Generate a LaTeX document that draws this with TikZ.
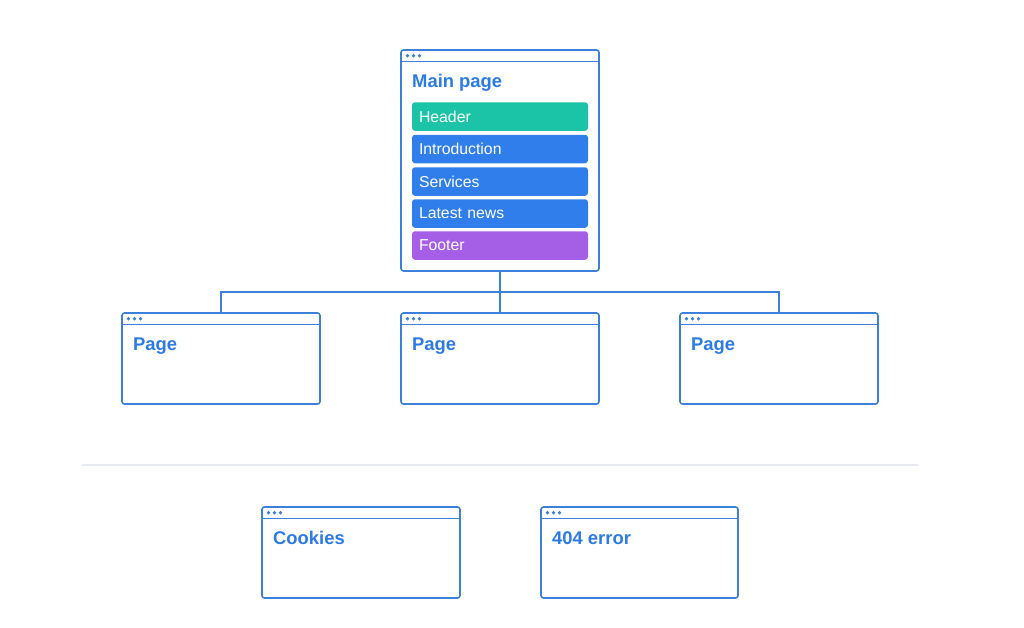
\documentclass[tikz,border=0pt]{standalone}
\usepackage{fontspec}
\setmainfont{Liberation Sans}
\definecolor{wline}{HTML}{3B80D9}
\definecolor{wtext}{HTML}{2C7BE5}
\definecolor{cteal}{HTML}{1CC4A7}
\definecolor{cblue}{HTML}{2F7EEB}
\definecolor{cpurple}{HTML}{A55EE6}
\definecolor{sep}{HTML}{E8ECF2}
\tikzset{
  win/.style={draw=wline, line width=1.6pt, rounded corners=2.5pt, inner sep=0pt, outer sep=0pt, fill=white},
  wtitle/.style={anchor=base west, inner sep=0pt, text=wtext, font=\fontsize{18.4}{21}\selectfont\bfseries},
  bar/.style={rounded corners=3pt, minimum width=176pt, minimum height=28.5pt, text width=162pt, inner xsep=7pt, inner ysep=0pt, align=left, text=white, font=\fontsize{15.8}{18}\selectfont},
  conn/.style={draw=wline, line width=1.6pt},
}
\newcommand{\browserwin}[6]{%
  \node[win, minimum width=#4pt, minimum height=#5pt] (#1) at (#2,#3) {};
  \draw[wline, line width=1.6pt] ([yshift=-11.5pt]#1.north west) -- ([yshift=-11.5pt]#1.north east);
  \foreach \dx in {6.5,12.5,18.5} {\fill[wline] ([xshift=\dx pt, yshift=-5.8pt]#1.north west) circle (1.9pt);}
  \node[wtitle] (#1t) at ([xshift=11pt, yshift=-37.5pt]#1.north west) {#6};
}
\begin{document}
\begin{tikzpicture}[x=1pt, y=-1pt]
\useasboundingbox (0,0) rectangle (1024,627);
% separator
\draw[sep, line width=1.2pt] (82,465) -- (918,465);
% main window
\browserwin{main}{500}{160.5}{198}{221}{Main page}
\node[bar, fill=cteal] (hdr) at (500,116.5) {Header};
\node[bar, fill=cblue] (intro) at (500,149) {Introduction};
\node[bar, fill=cblue] (serv) at (500,181.5) {Services};
\node[bar, fill=cblue] (news) at (500,213.5) {Latest news};
\node[bar, fill=cpurple] (foot) at (500,245.5) {Footer};
% pages
\browserwin{p1}{221}{358.5}{198}{91}{Page}
\browserwin{p2}{500}{358.5}{198}{91}{Page}
\browserwin{p3}{779}{358.5}{198}{91}{Page}
% connectors
\coordinate (j) at (500,292);
\draw[conn] (main.south) -- (j);
\draw[conn] (j) -| (p1.north);
\draw[conn] (j) -| (p3.north);
\draw[conn] (j) -- (p2.north);
% bottom windows
\browserwin{ck}{361}{552.5}{198}{91}{Cookies}
\browserwin{er}{639.5}{552.5}{197}{91}{404 error}
\end{tikzpicture}
\end{document}
